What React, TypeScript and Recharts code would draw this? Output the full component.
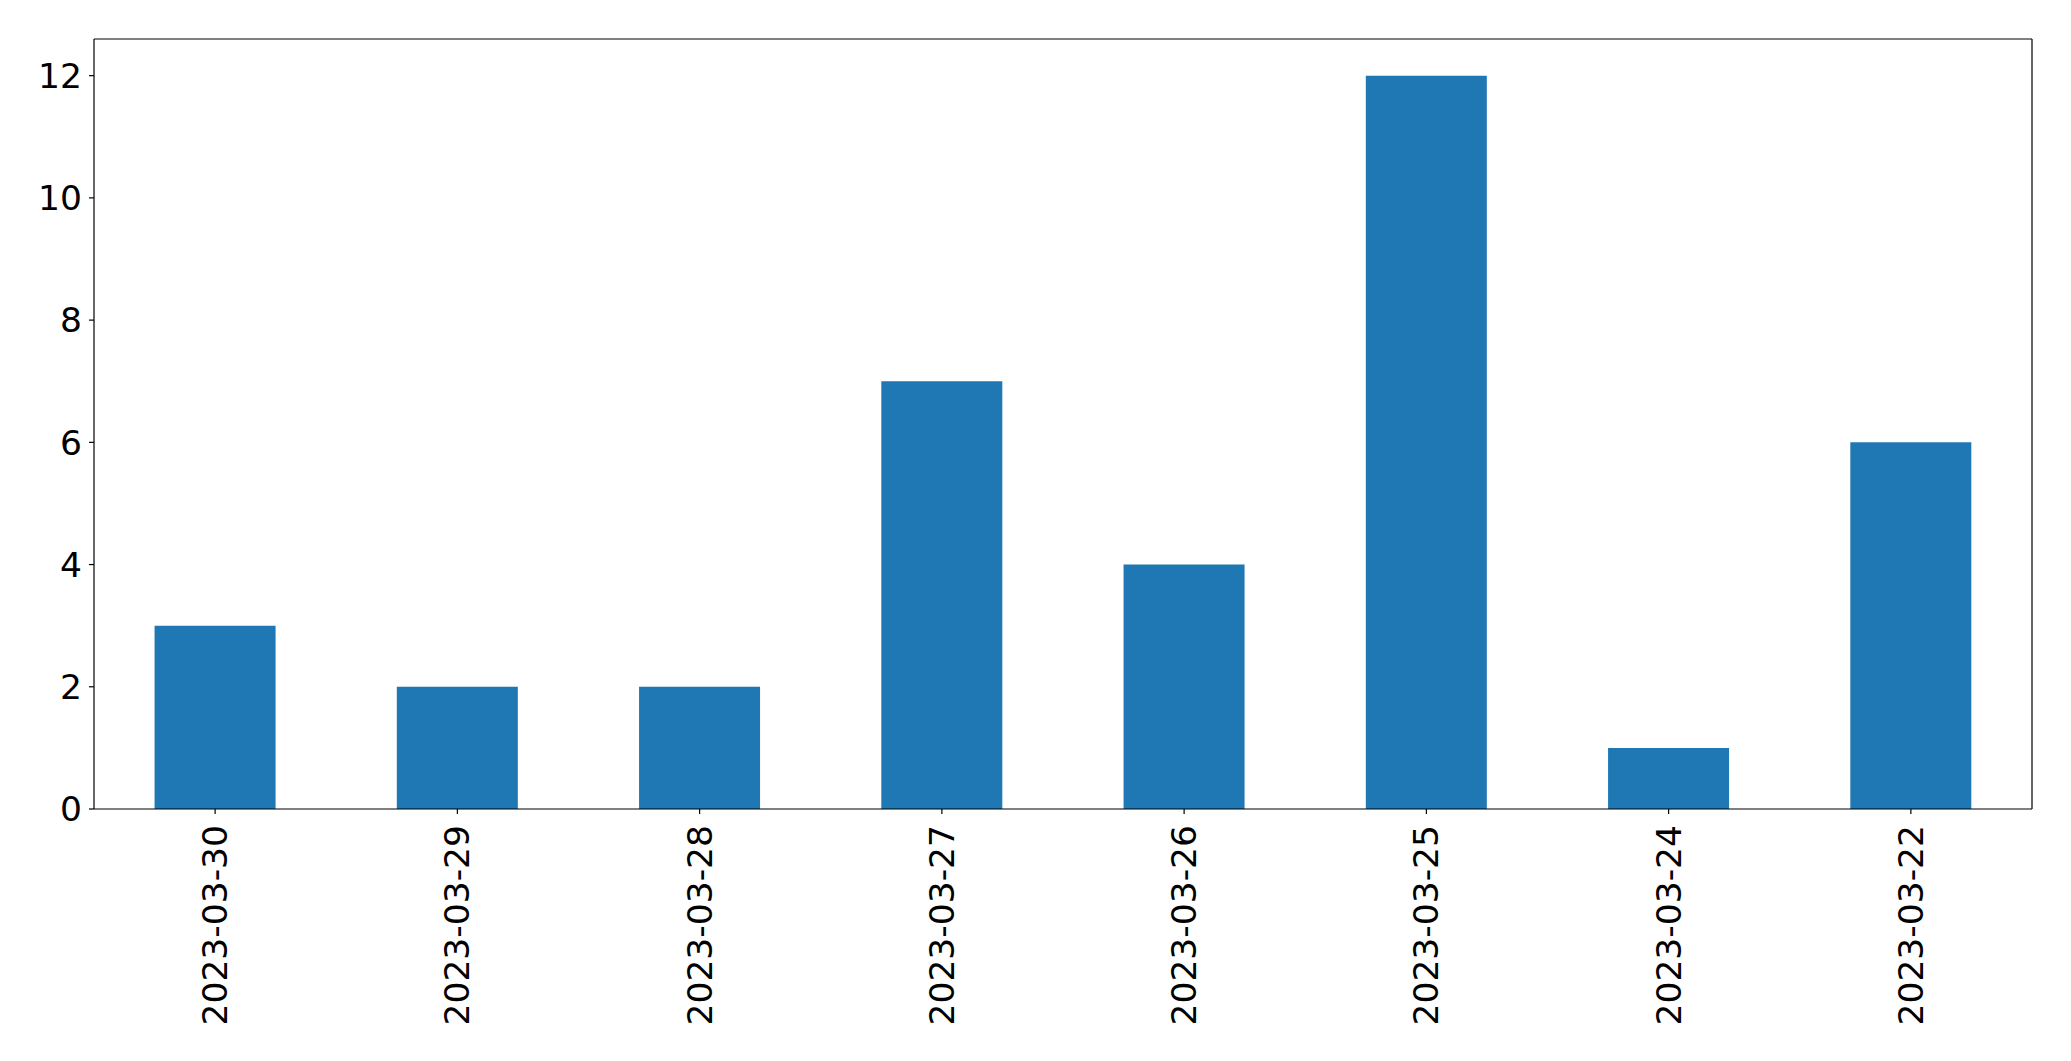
import { Bar, BarChart, CartesianGrid, XAxis, YAxis } from "recharts"

const dates = [
  "2023-03-30",
  "2023-03-29",
  "2023-03-28",
  "2023-03-27",
  "2023-03-26",
  "2023-03-25",
  "2023-03-24",
  "2023-03-22",
]
const counts = [3, 2, 2, 7, 4, 12, 1, 6]
const yTicks = [0, 2, 4, 6, 8, 10, 12]

const data = dates.map((date, i) => ({ date, count: counts[i] }))

const FONT = "'DejaVu Sans', sans-serif"
const FONT_SIZE = 34.5

function DateTick({ x, y, payload }: any) {
  return (
    <text
      transform={`translate(${x}, ${y + 9}) rotate(-90)`}
      textAnchor="end"
      dy="0.35em"
      fill="#000"
      fontFamily={FONT}
      fontSize={FONT_SIZE}
    >
      {payload.value}
    </text>
  )
}

export default function App() {
  return (
    <div style={{ position: "absolute", left: 0, top: 0, background: "#fff" }}>
      <BarChart
        width={2071}
        height={1061}
        data={data}
        margin={{ top: 39, right: 39, left: 0, bottom: 0 }}
        barCategoryGap="25%"
      >
        {/* top and right frame lines */}
        <CartesianGrid
          stroke="#000"
          strokeWidth={1.2}
          horizontalCoordinatesGenerator={({ offset }: any) => [offset.top]}
          verticalCoordinatesGenerator={({ offset }: any) => [offset.left + offset.width]}
        />
        <XAxis
          dataKey="date"
          height={252}
          interval={0}
          stroke="#000"
          tickSize={5}
          tickMargin={2}
          tick={<DateTick />}
          axisLine={{ stroke: "#000", strokeWidth: 1.2 }}
          tickLine={{ stroke: "#000", strokeWidth: 1.2 }}
        />
        <YAxis
          width={94}
          domain={[0, 12.6]}
          ticks={yTicks}
          stroke="#000"
          tickSize={5}
          tickMargin={7}
          tick={{ fill: "#000", fontFamily: FONT, fontSize: FONT_SIZE }}
          axisLine={{ stroke: "#000", strokeWidth: 1.2 }}
          tickLine={{ stroke: "#000", strokeWidth: 1.2 }}
        />
        <Bar dataKey="count" fill="#1f77b4" isAnimationActive={false} />
      </BarChart>
    </div>
  )
}
